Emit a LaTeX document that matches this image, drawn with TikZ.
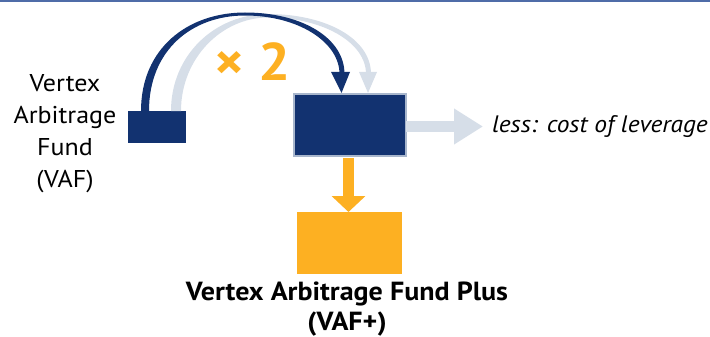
\documentclass[tikz,border=0pt]{standalone}
\usepackage{fontspec}
\setmainfont[FakeStretch=1.07]{PT Sans}
\usetikzlibrary{arrows.meta,calc}
\definecolor{navy}{RGB}{18,50,112}
\definecolor{lightgb}{RGB}{214,222,232}
\definecolor{vorange}{RGB}{253,176,34}
\definecolor{topline}{RGB}{79,108,168}
\definecolor{boxedge}{RGB}{168,182,204}
\tikzset{
  navybox/.style={fill=navy, inner sep=0pt, outer sep=0pt},
  orangebox/.style={fill=vorange, inner sep=0pt, outer sep=0pt},
  lbl/.style={inner sep=0pt, outer sep=0pt, text=black},
  greyarrow/.style={draw=lightgb, line width=11pt, -{Triangle[width=34pt,length=29pt]}},
  orangearrow/.style={draw=vorange, line width=11pt, -{Triangle[width=33pt,length=16pt]}},
}
\begin{document}
\begin{tikzpicture}[x=1pt,y=-1pt]
\useasboundingbox (0,0) rectangle (710,337);
\draw[topline, line width=2pt] (0,1) -- (710,1);

% boxes
\node[navybox, minimum width=58pt, minimum height=32pt] (vaf) at (157,127) {};
\node[navybox, draw=boxedge, line width=1.2pt, minimum width=112pt, minimum height=62pt] (lev) at (350,125) {};
\node[orangebox, minimum width=105pt, minimum height=62pt] (plus) at (349.5,243) {};

% light arc (behind)
\fill[lightgb] (171,111) .. controls (171,55) and (215,14) .. (268,14)
   .. controls (325,14) and (371,38) .. (371,74)
   -- (366,74) .. controls (366,42) and (322,17.5) .. (268,17.5)
   .. controls (222,17.5) and (181,58) .. (181,111) -- cycle;
\fill[lightgb] (359,72) -- (377,72) -- (368,93) -- cycle;

% dark arc
\fill[navy] (141,111) .. controls (141,48) and (188,12.5) .. (245,12.5)
   .. controls (302,12.5) and (344.5,38) .. (344.5,74)
   -- (339.5,74) .. controls (339.5,42) and (298,15.5) .. (245,15.5)
   .. controls (192,15.5) and (149,50) .. (149,111) -- cycle;
\fill[navy] (331,72) -- (350,72) -- (341.5,93) -- cycle;

% x2
\node[anchor=base west, inner sep=0pt, text=vorange, font=\fontsize{53}{53}\selectfont\bfseries] (times) at (214,81) {× 2};

% grey arrow
\coordinate (levend) at (483,126.5);
\draw[greyarrow] (lev.east) ++(0,1.5) -- (levend);
\node[lbl, anchor=base west, font=\fontsize{23.8}{23.8}\selectfont\itshape] (less) at (492,132) {less: cost of leverage};

% orange arrow
\draw[orangearrow] ($(lev.south)+(-1.5,2)$) -- (plus.north -| {$(lev.south)+(-1.5,0)$});

% labels
\node[lbl, align=center, font=\fontsize{24.3}{32}\selectfont] (vaftext) at (65,133.5) {Vertex\\Arbitrage\\Fund\\(VAF)};
\node[lbl, align=center, font=\fontsize{26.2}{30}\selectfont\bfseries] (plustext) at (347,309.5) {Vertex Arbitrage Fund Plus\\(VAF+)};
\end{tikzpicture}
\end{document}
